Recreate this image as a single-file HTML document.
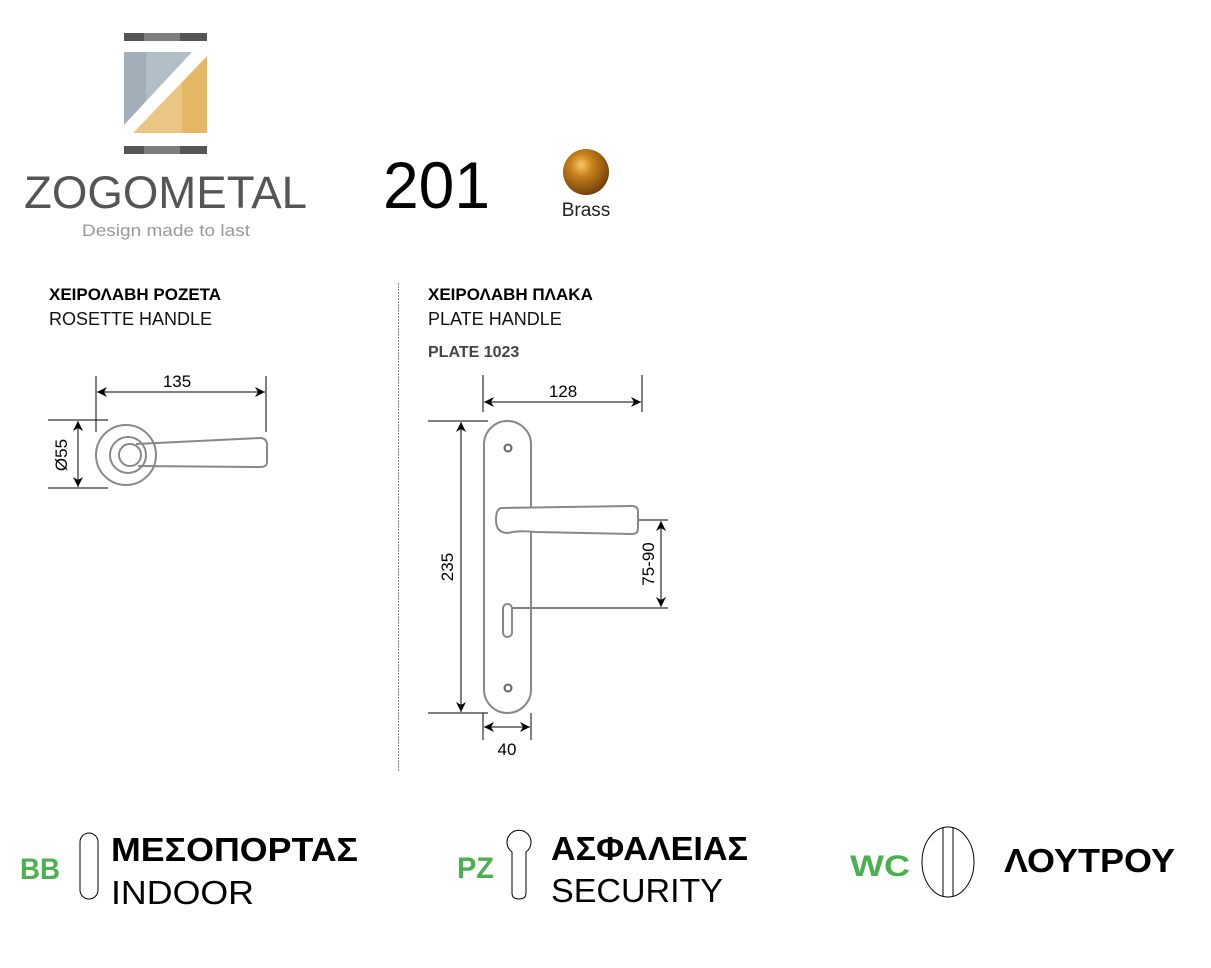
<!DOCTYPE html>
<html><head><meta charset="utf-8"><style>
html,body{margin:0;padding:0;background:#fff;}
svg{display:block;}
text{font-family:"Liberation Sans","DejaVu Sans",sans-serif;}
</style></head><body>
<svg width="1211" height="968" viewBox="0 0 1211 968" xmlns="http://www.w3.org/2000/svg">
<defs>
<marker id="a" viewBox="0 0 10 10" refX="10" refY="5" markerWidth="10" markerHeight="10" markerUnits="userSpaceOnUse" orient="auto-start-reverse"><path d="M0,0 L10,5 L0,10 L3,5 Z" fill="#000"/></marker>
<radialGradient id="ball" cx="0.4" cy="0.35" r="0.7"><stop offset="0" stop-color="#f7c866"/><stop offset="0.35" stop-color="#c8811c"/><stop offset="1" stop-color="#6a3a08"/></radialGradient>
</defs>
<!-- logo -->
<rect x="124" y="33" width="20" height="8" fill="#555"/><rect x="144" y="33" width="36" height="8" fill="#7d7d7d"/><rect x="180" y="33" width="27" height="8" fill="#555"/>
<rect x="124" y="146" width="20" height="8" fill="#555"/><rect x="144" y="146" width="36" height="8" fill="#7d7d7d"/><rect x="180" y="146" width="27" height="8" fill="#555"/>
<polygon points="124,52 192,52 124,125" fill="#b2bec6"/>
<polygon points="124,52 146,52 146,101 124,125" fill="#a3afb8"/>
<polygon points="207,56 207,133 133,133" fill="#ebc584"/>
<polygon points="182,83 207,56 207,133 182,133" fill="#e4b766"/>
<text x="24" y="208" font-size="45" fill="#555" textLength="283" lengthAdjust="spacingAndGlyphs" style="font-weight:300">ZOGOMETAL</text>
<text x="82" y="236" font-size="17" fill="#999" textLength="168" lengthAdjust="spacingAndGlyphs">Design made to last</text>
<text x="383" y="208" font-size="66" fill="#000" textLength="107" lengthAdjust="spacingAndGlyphs">201</text>
<circle cx="586" cy="172" r="23" fill="url(#ball)"/>
<text x="586" y="216" font-size="19" text-anchor="middle" fill="#222">Brass</text>
<!-- headings -->
<text x="49" y="300" font-size="17" font-weight="bold">ΧΕΙΡΟΛΑΒΗ ΡΟΖΕΤΑ</text>
<text x="49" y="325" font-size="18" fill="#111">ROSETTE HANDLE</text>
<text x="428" y="300" font-size="17" font-weight="bold">ΧΕΙΡΟΛΑΒΗ ΠΛΑΚΑ</text>
<text x="428" y="325" font-size="18" fill="#111">PLATE HANDLE</text>
<text x="428" y="357" font-size="16" font-weight="bold" fill="#444">PLATE 1023</text>
<line x1="398.5" y1="283" x2="398.5" y2="772" stroke="#888" stroke-width="1" stroke-dasharray="2,1"/>
<!-- rosette -->
<g stroke="#000" stroke-width="1" fill="none">
<line x1="96" y1="376" x2="96" y2="432"/><line x1="266" y1="376" x2="266" y2="432"/>
<line x1="97" y1="392" x2="265" y2="392" marker-start="url(#a)" marker-end="url(#a)"/>
<line x1="48" y1="420" x2="108" y2="420"/><line x1="48" y1="488" x2="108" y2="488"/>
<line x1="78" y1="421" x2="78" y2="487" marker-start="url(#a)" marker-end="url(#a)"/>
</g>
<g stroke="#888" stroke-width="2" fill="none">
<circle cx="126" cy="455" r="30"/><circle cx="128" cy="455" r="18"/><circle cx="130" cy="455" r="11"/>
<path d="M136,444 L260,438 Q267,438 267,445 L267,462 Q267,467 260,467 L138,466"/>
</g>
<text x="177" y="387" font-size="17" text-anchor="middle">135</text>
<text transform="translate(67,455) rotate(-90)" font-size="17" text-anchor="middle">Ø55</text>
<!-- plate -->
<g stroke="#000" stroke-width="1" fill="none">
<line x1="483" y1="375" x2="483" y2="412"/><line x1="642" y1="375" x2="642" y2="412"/>
<line x1="484" y1="402" x2="641" y2="402" marker-start="url(#a)" marker-end="url(#a)"/>
<line x1="428" y1="421" x2="488" y2="421"/><line x1="428" y1="713" x2="488" y2="713"/>
<line x1="461" y1="422" x2="461" y2="712" marker-start="url(#a)" marker-end="url(#a)"/>
<line x1="637" y1="520" x2="668" y2="520"/><line x1="512" y1="608" x2="668" y2="608"/>
<line x1="661" y1="521" x2="661" y2="607" marker-start="url(#a)" marker-end="url(#a)"/>
<line x1="483" y1="713" x2="483" y2="740"/><line x1="531" y1="713" x2="531" y2="740"/>
<line x1="484" y1="727" x2="530" y2="727" marker-start="url(#a)" marker-end="url(#a)"/>
</g>
<g stroke="#888" stroke-width="2" fill="none">
<rect x="484" y="421" width="47" height="292" rx="23.5"/>
<path d="M502,508 L632,506 Q638,506 638,512 L638,528 Q638,534 632,534 L536,532 Q518,530 508,533 Q496,533 496,520 Q496,508 502,508 Z" fill="#fff"/>
<rect x="503" y="604" width="9" height="33" rx="4.5"/>
</g>
<circle cx="508" cy="448" r="3.5" fill="#fff" stroke="#666" stroke-width="2"/>
<circle cx="508" cy="688" r="3.5" fill="#fff" stroke="#666" stroke-width="2"/>
<text x="563" y="397" font-size="17" text-anchor="middle">128</text>
<text transform="translate(453,567) rotate(-90)" font-size="17" text-anchor="middle">235</text>
<text transform="translate(654,564) rotate(-90)" font-size="17" text-anchor="middle">75-90</text>
<text x="507" y="755" font-size="17" text-anchor="middle">40</text>
<!-- bottom legend -->
<text x="20" y="879" font-size="30" font-weight="bold" fill="#4caf50" textLength="40" lengthAdjust="spacingAndGlyphs">BB</text>
<rect x="80" y="833" width="18" height="66" rx="9" fill="none" stroke="#000" stroke-width="1"/>
<text x="111" y="861" font-size="33" font-weight="bold" textLength="247" lengthAdjust="spacingAndGlyphs">ΜΕΣΟΠΟΡΤΑΣ</text>
<text x="111" y="904" font-size="33" textLength="143" lengthAdjust="spacingAndGlyphs">INDOOR</text>
<text x="457" y="878" font-size="30" font-weight="bold" fill="#4caf50" textLength="37" lengthAdjust="spacingAndGlyphs">PZ</text>
<path d="M512,852 A12,12 0 1 1 526,852 L526,893 Q526,899 519,899 Q512,899 512,893 Z" fill="none" stroke="#000" stroke-width="1"/>
<text x="551" y="860" font-size="33" font-weight="bold" textLength="197" lengthAdjust="spacingAndGlyphs">ΑΣΦΑΛΕΙΑΣ</text>
<text x="551" y="902" font-size="33" textLength="172" lengthAdjust="spacingAndGlyphs">SECURITY</text>
<text x="850" y="876" font-size="30" font-weight="bold" fill="#4caf50" textLength="60" lengthAdjust="spacingAndGlyphs">WC</text>
<ellipse cx="948" cy="862" rx="26" ry="35" fill="none" stroke="#000" stroke-width="1"/>
<line x1="943" y1="828" x2="943" y2="896" stroke="#000"/><line x1="953" y1="828" x2="953" y2="896" stroke="#000"/>
<text x="1004" y="872" font-size="33" font-weight="bold" textLength="171" lengthAdjust="spacingAndGlyphs">ΛΟΥΤΡΟΥ</text>
</svg>
</body></html>
